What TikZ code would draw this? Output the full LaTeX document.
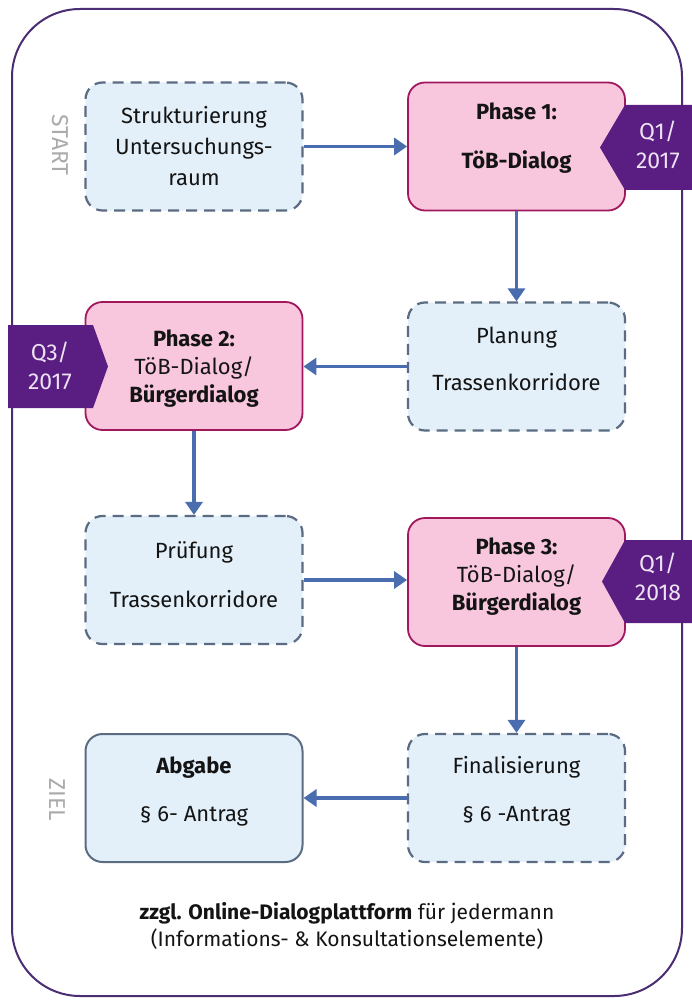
\documentclass[tikz,border=0pt]{standalone}
\usepackage{fontspec}
\setmainfont{Fira Sans}
\usetikzlibrary{arrows.meta}
\definecolor{framec}{HTML}{4A2D73}
\definecolor{tagc}{HTML}{5A1E82}
\definecolor{tagtext}{HTML}{EDE2F4}
\definecolor{pinkfill}{HTML}{F8C6DD}
\definecolor{pinkdraw}{HTML}{A2185F}
\definecolor{bluefill}{HTML}{E3F0FA}
\definecolor{bluedraw}{HTML}{5B6C82}
\definecolor{arrowc}{HTML}{4A6DB0}
\definecolor{labelgray}{HTML}{ABABAB}
\definecolor{txt}{HTML}{141414}
\begin{document}
\begin{tikzpicture}[x=1pt,y=-1pt,
  boxbase/.style={rectangle, rounded corners=17pt, minimum width=217pt, minimum height=128pt, inner sep=0pt},
  dashbox/.style={boxbase, draw=bluedraw, fill=bluefill, line width=2.2pt, dash pattern=on 11pt off 7pt},
  solidbox/.style={boxbase, draw=bluedraw, fill=bluefill, line width=2pt},
  phasebox/.style={boxbase, draw=pinkdraw, fill=pinkfill, line width=1.8pt},
  boxtext/.style={align=center, text=txt, inner sep=0pt, font=\fontsize{22}{31}\selectfont},
  tagshape/.style={fill=tagc, draw=none},
  tagtxt/.style={align=center, text=tagtext, inner sep=0pt, font=\fontsize{23}{29}\selectfont},
  sidelabel/.style={text=labelgray, rotate=-90, inner sep=0pt, font=\fontsize{23}{23}\selectfont},
  flow/.style={draw=arrowc, line width=3.8pt, -{Triangle[length=13pt,width=17pt]}}
]
\useasboundingbox (0,0) rectangle (692,1003);
\fill[white] (0,0) rectangle (692,1003);

% outer frame
\draw[framec, line width=2pt, rounded corners=68pt] (12,9) rectangle (682,996);

% boxes
\node[dashbox]  (b1)  at (194,146.5) {};
\node[phasebox] (p1)  at (516.5,146.5) {};
\node[dashbox]  (plan) at (516.5,366.5) {};
\node[phasebox] (p2)  at (194,366) {};
\node[dashbox]  (pru) at (194,580) {};
\node[phasebox] (p3)  at (516.5,582) {};
\node[solidbox] (abg) at (194,798) {};
\node[dashbox]  (fin) at (516.5,798) {};

% tags
\fill[tagshape] (625,105) -- (692,105) -- (692,190) -- (625,190) -- (600,147.5) -- cycle;
\node[tagtxt] (tag1) at (658,145) {Q1/\\2017};
\fill[tagshape] (8,325) -- (93,325) -- (108,366.5) -- (93,408) -- (8,408) -- cycle;
\node[tagtxt] (tag2) at (50,366) {Q3/\\2017};
\fill[tagshape] (625,540) -- (692,540) -- (692,623) -- (625,623) -- (602,581.5) -- cycle;
\node[tagtxt] (tag3) at (658,577) {Q1/\\2018};

% texts
\node[boxtext] (b1t) at (194,146) {Strukturierung\\Untersuchungs-\\raum};
\node[boxtext, font=\fontsize{22}{49}\selectfont] (p1t) at (516.5,138) {\textbf{Phase 1:}\\\textbf{TöB-Dialog}};
\node[boxtext, font=\fontsize{22}{47}\selectfont] (plant) at (516.5,358.5) {Planung\\Trassenkorridore};
\node[boxtext, font=\fontsize{22}{28}\selectfont] (p2t) at (194,369) {\textbf{Phase 2:}\\TöB-Dialog/\\\textbf{Bürgerdialog}};
\node[boxtext, font=\fontsize{22}{49}\selectfont] (prut) at (194,575) {Prüfung\\Trassenkorridore};
\node[boxtext, font=\fontsize{22}{28}\selectfont] (p3t) at (516.5,577) {\textbf{Phase 3:}\\TöB-Dialog/\\\textbf{Bürgerdialog}};
\node[boxtext, font=\fontsize{22}{48}\selectfont] (abgt) at (194,791) {\textbf{Abgabe}\\§ 6- Antrag};
\node[boxtext, font=\fontsize{22}{48}\selectfont] (fint) at (516.5,791) {Finalisierung\\§ 6 -Antrag};

% side labels
\node[sidelabel] (start) at (60,145) {START};
\node[sidelabel] (ziel) at (57,800) {ZIEL};

% bottom note
\node[align=center, text=txt, inner sep=0pt, font=\fontsize{21}{27}\selectfont] (note) at (347,926)
  {\textbf{zzgl. Online-Dialogplattform} für jedermann\\(Informations- \& Konsultationselemente)};

% connectors
\draw[flow] (b1.east) -- (p1.west);
\draw[flow] (p1.south) -- (plan.north);
\draw[flow] (plan.west) -- (plan.west -| p2.east);
\draw[flow] (p2.south) -- (pru.north);
\draw[flow] (pru.east) -- (pru.east -| p3.west);
\draw[flow] (p3.south) -- (fin.north);
\draw[flow] (fin.west) -- (abg.east);
\end{tikzpicture}
\end{document}
